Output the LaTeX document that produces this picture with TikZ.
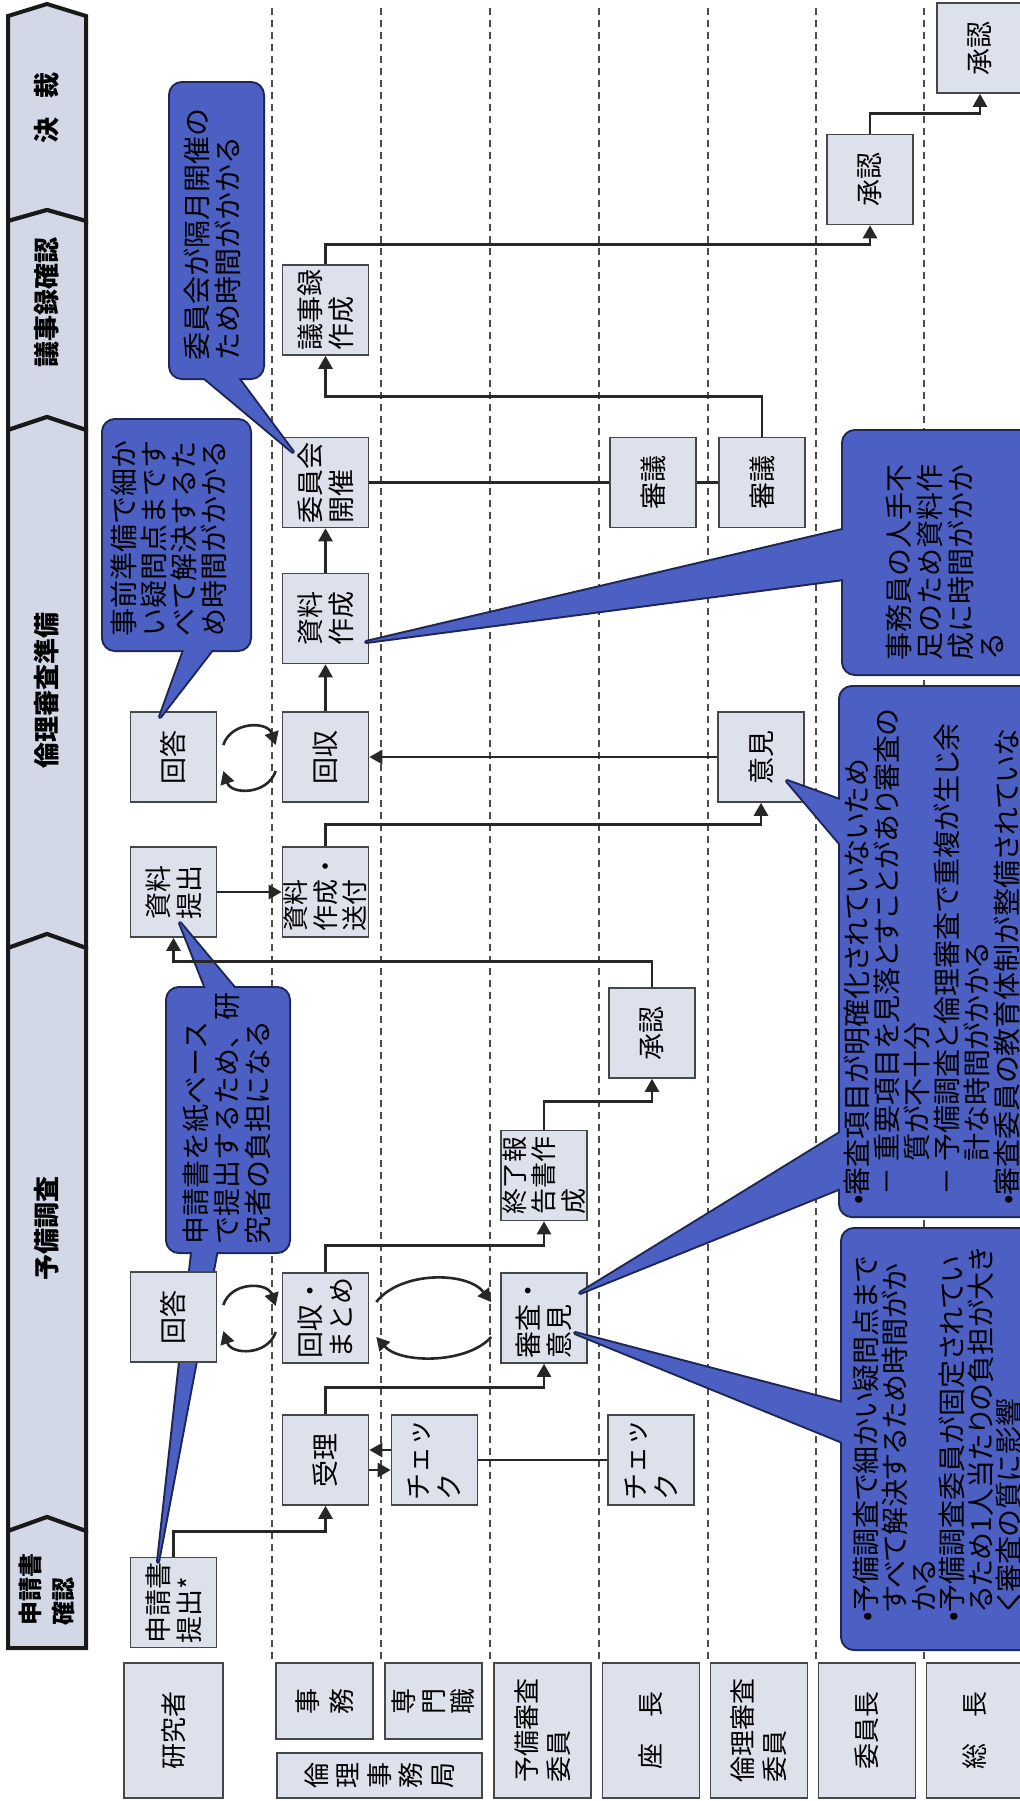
\documentclass[tikz,border=0pt]{standalone}
\usepackage{fontspec}
\newfontfamily\jp{Noto Sans CJK JP}
\newfontfamily\jpp[RawFeature=+palt]{Noto Sans CJK JP}
\usetikzlibrary{arrows.meta}
\definecolor{boxfill}{RGB}{221,225,235}
\definecolor{hdrfill}{RGB}{211,216,230}
\definecolor{callblue}{RGB}{76,96,196}
\definecolor{calledge}{RGB}{30,38,85}
\definecolor{lineclr}{RGB}{38,40,40}
\definecolor{boxedge}{RGB}{70,72,72}
\newcommand\callshapes[1]{%
  \path[#1,rounded corners=6pt] (170,83) rectangle (263,378);
  \path[#1] (195,370) -- (293,452) -- (232,370) -- cycle;
  \path[#1,rounded corners=6pt] (103,420) rectangle (250,650);
  \path[#1] (187,642) -- (160,717) -- (218,642) -- cycle;
  \path[#1,rounded corners=6pt] (167,988) rectangle (289,1252);
  \path[#1] (209,996) -- (180,923) -- (241,996) -- cycle;
  \path[#1] (193,1244) -- (158,1562) -- (218,1244) -- cycle;
  \path[#1,rounded corners=6pt] (843,431) rectangle (1045,674);
  \path[#1] (851,528) -- (366,642) -- (851,578) -- cycle;
  \path[#1,rounded corners=6pt] (840,687) rectangle (1045,1216);
  \path[#1] (848,803) -- (787,781) -- (848,853) -- cycle;
  \path[#1] (848,1128) -- (580,1293) -- (848,1185) -- cycle;
  \path[#1,rounded corners=6pt] (842,1229) rectangle (1045,1649);
  \path[#1] (850,1405) -- (575,1333) -- (850,1445) -- cycle;
}
\begin{document}
\begin{tikzpicture}[x=0.5pt,y=-0.5pt,
  sep/.style={draw=black!70, line width=0.6pt, dash pattern=on 3.5pt off 2.5pt},
  hdr/.style={draw=black!90, fill=hdrfill, line width=2pt, line join=miter},
  hdrtext/.style={rotate=90, inner sep=0pt, align=left, font=\jp\bfseries\fontsize{13}{16.5}\selectfont},
  procbox/.style={draw=boxedge, line width=0.8pt, fill=boxfill, rotate=90, minimum width=45pt, minimum height=43pt, inner sep=0pt, align=left, font=\jp\fontsize{13.5}{15.5}\selectfont},
  tribox/.style={procbox, font=\jp\fontsize{13}{14.8}\selectfont},
  lanelab/.style={draw=boxedge, line width=0.7pt, fill=boxfill, rotate=90, inner sep=0pt, align=left, font=\jp\fontsize{13}{16}\selectfont},
  callstroke/.style={draw=calledge, line width=2pt, line join=round},
  callfill/.style={fill=callblue},
  calltext/.style={rotate=90, inner sep=0pt, align=left, anchor=north west, font=\jp\fontsize{14}{15.5}\selectfont},
  flow/.style={draw=lineclr, line width=1.3pt, -{Triangle[length=6.5pt,width=7pt]}},
  link/.style={draw=lineclr, line width=1.3pt},
]
\useasboundingbox (0,0) rectangle (1020,1801);
\clip (0,0) rectangle (1020,1801);
\fill[white] (0,0) rectangle (1020,1801);

% lane separators
\foreach \sx in {272,381,490,599,708,816,924}{
  \draw[sep] (\sx,8) -- (\sx,1660);
}

% phase header
\path[hdr] (8,16) -- (47,4) -- (86,16) -- (86,221) -- (47,210) -- (8,221) -- cycle;
\path[hdr] (8,221) -- (47,210) -- (86,221) -- (86,430) -- (47,417) -- (8,430) -- cycle;
\path[hdr] (8,430) -- (47,417) -- (86,430) -- (86,948) -- (47,934) -- (8,948) -- cycle;
\path[hdr] (8,948) -- (47,934) -- (86,948) -- (86,1531) -- (47,1517) -- (8,1531) -- cycle;
\path[hdr] (8,1531) -- (47,1517) -- (86,1531) -- (86,1648) -- (8,1648) -- cycle;
\node[hdrtext] (h1) at (47,108) {決\hspace{0.7em}裁};
\node[hdrtext] (h2) at (47,302) {議事録確認};
\node[hdrtext] (h3) at (47,690) {倫理審査準備};
\node[hdrtext] (h4) at (47,1228) {予備調査};
\node[hdrtext, font=\jp\bfseries\fontsize{12}{16.5}\selectfont] (h5) at (47,1589) {申請書\\確認};

% process boxes (except the lower answer box, drawn over the callout tail)
\node[procbox] (shinsei) at (173.5,1602.5) {申請書\\提出*};
\node[procbox] (kaito2) at (173.5,757) {回答};
\node[procbox] (teishutsu) at (173.5,892) {資料\\提出};
\node[procbox] (juri) at (325.5,1460) {受理};
\node[procbox] (matome) at (325.5,1318) {回収・\\まとめ};
\node[tribox] (sofu) at (325.5,892) {資料\\作成・\\送付};
\node[procbox] (kaishu) at (325.5,757) {回収};
\node[procbox] (sakusei) at (325.5,618.5) {資料\\作成};
\node[procbox] (iinkai) at (325.5,482.5) {委員会\\開催};
\node[procbox] (gijiroku) at (325.5,310) {議事録\\作成};
\node[procbox] (check1) at (434.5,1460) {チェッ\\ク};
\node[procbox] (shinsa) at (544,1318) {審査・\\意見};
\node[tribox] (shuryo) at (544,1175.5) {終了報\\告書作\\成};
\node[procbox] (check2) at (651,1460) {チェッ\\ク};
\node[procbox] (shonin1) at (652,1033) {承認};
\node[procbox] (shingi1) at (653,482.5) {審議};
\node[procbox] (shingi2) at (762,482.5) {審議};
\node[procbox] (iken) at (761,757) {意見};
\node[procbox] (shonin2) at (870,179.5) {承認};
\node[procbox] (shonin3) at (980,48) {承認};

% callouts
\callshapes{callstroke}
\callshapes{callfill}

\node[procbox] (kaito1) at (173.5,1317) {回答};

% connectors
\draw[flow] (shinsei.east) -- ++(0,-25) -| (juri.west);
\draw[flow] (juri.east) -- ++(0,-27) -| (shinsa.west);
\draw[flow] (matome.east) -- ++(0,-27) -| (shuryo.west);
\draw[flow] (shuryo.east) -- ++(0,-28) -| (shonin1.west);
\draw[flow] (shonin1.east) -- ++(0,-26) -| (teishutsu.west);
\draw[flow] (teishutsu.south) -- (sofu.north);
\draw[flow] (sofu.east) -- ++(0,-22) -| (iken.west);
\draw[flow] (iken.north) -- (kaishu.south);
\draw[flow] (kaishu.east) -- (sakusei.west);
\draw[flow] (sakusei.east) -- (iinkai.west);
\draw[link] (iinkai.south) -- (shingi1.north);
\draw[link] (shingi1.south) -- (shingi2.north);
\draw[flow] (shingi2.east) -- ++(0,-40) -| (gijiroku.west);
\draw[flow] (gijiroku.east) -- ++(0,-20) -| (shonin2.west);
\draw[flow] (shonin2.east) -- ++(0,-20) -| (shonin3.west);
\draw[link] (check1.south) -- (check2.north);
\draw[flow] ([yshift=5pt]check1.north) -- ([yshift=5pt]juri.south);
\draw[flow] ([yshift=-5pt]juri.south) -- ([yshift=-5pt]check1.north);

% exchange cycles
\draw[flow] ([xshift=3pt,yshift=6pt]kaito1.south) .. controls +(4pt,12pt) and +(-4pt,12pt) .. ([xshift=-3pt,yshift=6pt]matome.north);
\draw[flow] ([xshift=-3pt,yshift=-7pt]matome.north) .. controls +(-4pt,-12pt) and +(4pt,-12pt) .. ([xshift=3pt,yshift=-7pt]kaito1.south);
\draw[flow] ([xshift=3pt,yshift=6pt]kaito2.south) .. controls +(4pt,12pt) and +(-4pt,12pt) .. ([xshift=-3pt,yshift=6pt]kaishu.north);
\draw[flow] ([xshift=-3pt,yshift=-7pt]kaishu.north) .. controls +(-4pt,-12pt) and +(4pt,-12pt) .. ([xshift=3pt,yshift=-7pt]kaito2.south);
\draw[flow] ([xshift=3.5pt,yshift=8pt]matome.south) .. controls +(12pt,15.5pt) and +(-12pt,15.5pt) .. ([xshift=-4.5pt,yshift=8pt]shinsa.north);
\draw[flow] ([xshift=-4.5pt,yshift=-9.5pt]shinsa.north) .. controls +(-12pt,-13.5pt) and +(12pt,-13.5pt) .. ([xshift=3.5pt,yshift=-9.5pt]matome.south);

% callout texts
\node[calltext] (t1) at (183,361) {委員会が隔月開催の\\ため時間がかかる};
\node[calltext, font=\jp\fontsize{14}{15}\selectfont] (t2) at (110,637) {事前準備で細か\\い疑問点まです\\べて解決するた\\め時間がかかる};
\node[calltext] (t3) at (183,1245) {申請書を紙ベース\\で提出するため、研\\究者の負担になる};
\node[calltext] (t4) at (886,661) {事務員の人手不\\足のため資料作\\成に時間がかか\\る};
\node[calltext, font=\jpp\fontsize{14}{15}\selectfont] (t5) at (843,1205) {•審査項目が明確化されていないため\\
\phantom{•}－\hspace{0.2em}重要項目を見落とすことがあり審査の\\
\phantom{•－\hspace{0.2em}}質が不十分\\
\phantom{•}－\hspace{0.2em}予備調査と倫理審査で重複が生じ余\\
\phantom{•－\hspace{0.2em}}計な時間がかかる\\
•審査委員の教育体制が整備されていな};
\node[calltext, font=\jpp\fontsize{14}{14.3}\selectfont] (t6) at (853,1622) {•予備調査で細かい疑問点まで\\
\phantom{•}すべて解決するため時間がか\\
\phantom{•}かる\\
•予備調査委員が固定されてい\\
\phantom{•}るため1人当たりの負担が大き\\
\phantom{•}く審査の質に影響};

% lane labels
\node[lanelab, minimum width=67.5pt, minimum height=49.5pt] (lab1) at (173.5,1730.5) {研究者};
\node[lanelab, minimum width=38pt, minimum height=48.5pt, align=center, font=\jp\fontsize{13}{17}\selectfont] (lab2) at (324.5,1701) {事\\務};
\node[lanelab, minimum width=38pt, minimum height=48.5pt, align=center, font=\jp\fontsize{13}{14.75}\selectfont] (lab3) at (433.5,1701) {専\\門\\職};
\node[lanelab, minimum width=22.5pt, minimum height=102.5pt, align=center, font=\jp\fontsize{13}{15.75}\selectfont] (lab4) at (379.5,1775.5) {倫\\理\\事\\務\\局};
\node[lanelab, minimum width=67.5pt, minimum height=48.5pt] (lab5) at (542.5,1730.5) {予備審査\\委員};
\node[lanelab, minimum width=67.5pt, minimum height=48.5pt] (lab6) at (651,1730.5) {座　長};
\node[lanelab, minimum width=67.5pt, minimum height=48.5pt] (lab7) at (759,1730.5) {倫理審査\\委員};
\node[lanelab, minimum width=67.5pt, minimum height=48.5pt] (lab8) at (867,1730.5) {委員長};
\node[lanelab, minimum width=67.5pt, minimum height=48.5pt] (lab9) at (975,1730.5) {総　長};
\end{tikzpicture}
\end{document}
